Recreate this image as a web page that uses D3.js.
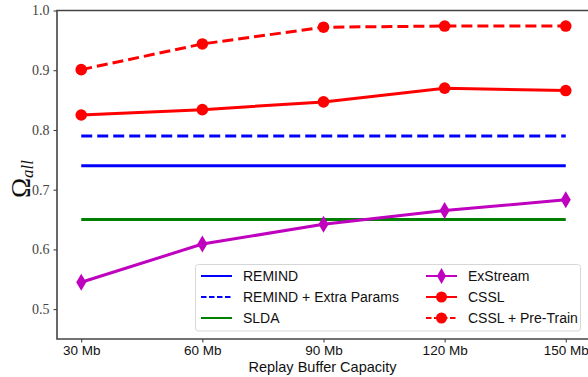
<!DOCTYPE html>
<html>
<head>
<meta charset="utf-8">
<script src="https://cdn.jsdelivr.net/npm/d3@7"></script>
<style>
  body { margin: 0; background: #fff; }
  svg { display: block; }
</style>
</head>
<body>
<svg id="chart" width="588" height="377"></svg>
<script>
// buffer sizes (Mb)
var buffers = [30, 60, 90, 120, 150];
var xTickLabels = ["30 Mb", "60 Mb", "90 Mb", "120 Mb", "150 Mb"];
var yTicks = [0.5, 0.6, 0.7, 0.8, 0.9, 1.0];

// series
var csslPre = [0.901, 0.944, 0.972, 0.974, 0.974];
var cssl = [0.825, 0.834, 0.847, 0.870, 0.866];
var exstream = [0.545, 0.609, 0.642, 0.665, 0.683];
var remind = 0.740;
var remindExtra = 0.790;
var slda = 0.650;

var svg = d3.select('#chart');
var pLeft = 57, pRight = 590, pTop = 10.5, pBottom = 339;

var x = d3.scaleLinear().domain([24, 156]).range([pLeft, pRight]);
var y = d3.scaleLinear().domain([0.45, 1.0]).range([pBottom, pTop]);

var line = d3.line()
    .x(function(d) { return x(d[0]) })
    .y(function(d) { return y(d[1]) });

function pairs(vals) {
    return buffers.map(function(b, i) { return [b, vals[i]] });
}
function flat(v) {
    return buffers.map(function(b) { return [b, v] });
}

var lines = [
    { name: 'REMIND', data: flat(remind), color: '#0000ff', dash: null, marker: null },
    { name: 'REMIND + Extra Params', data: flat(remindExtra), color: '#0000ff', dash: '11,5', marker: null },
    { name: 'SLDA', data: flat(slda), color: '#008000', dash: null, marker: null },
    { name: 'ExStream', data: pairs(exstream), color: '#bf00bf', dash: null, marker: 'diamond' },
    { name: 'CSSL', data: pairs(cssl), color: '#ff0000', dash: null, marker: 'circle' },
    { name: 'CSSL + Pre-Train', data: pairs(csslPre), color: '#ff0000', dash: '11,5', marker: 'circle' }
];

var diamond = function(cx, cy, w, h) {
    return 'M' + cx + ',' + (cy - h) + 'L' + (cx + w) + ',' + cy +
        'L' + cx + ',' + (cy + h) + 'L' + (cx - w) + ',' + cy + 'Z';
};

// lines
var g = svg.append('g');
lines.forEach(function(s) {
    g.append('path')
        .attr('d', line(s.data))
        .attr('fill', 'none')
        .attr('stroke', s.color)
        .attr('stroke-width', 3)
        .attr('stroke-dasharray', s.dash);
    if (s.marker == 'circle') {
        g.selectAll(null).data(s.data).enter().append('circle')
            .attr('cx', function(d) { return x(d[0]) })
            .attr('cy', function(d) { return y(d[1]) })
            .attr('r', 5.8)
            .attr('fill', s.color);
    } else if (s.marker == 'diamond') {
        g.selectAll(null).data(s.data).enter().append('path')
            .attr('d', function(d) { return diamond(x(d[0]), y(d[1]), 5, 8.5) })
            .attr('fill', s.color);
    }
});

// axes
var xAxis = svg.append('g')
    .attr('transform', 'translate(0,' + pBottom + ')')
    .call(d3.axisBottom(x).tickValues(buffers).tickSize(3.5).tickPadding(3)
        .tickFormat(function(d, i) { return xTickLabels[i] }));
xAxis.select('.domain').remove();
xAxis.selectAll('text')
    .attr('font-family', 'Liberation Sans, Arial, sans-serif')
    .attr('font-size', 13.5)
    .attr('fill', '#111');
xAxis.selectAll('line').attr('stroke', '#333');

var yAxis = svg.append('g')
    .attr('transform', 'translate(' + pLeft + ',0)')
    .call(d3.axisLeft(y).tickValues(yTicks).tickSize(3.5).tickPadding(4)
        .tickFormat(d3.format('.1f')));
yAxis.select('.domain').remove();
yAxis.selectAll('text')
    .attr('font-family', 'Liberation Serif, Times New Roman, serif')
    .attr('font-size', 14)
    .attr('fill', '#444');
yAxis.selectAll('line').attr('stroke', '#333');

// spines (left, top, bottom)
svg.append('path')
    .attr('d', 'M' + 588 + ',' + pTop + 'H' + pLeft + 'V' + pBottom + 'H588')
    .attr('fill', 'none')
    .attr('stroke', '#444')
    .attr('stroke-width', 1.6);

// axis titles
svg.append('text')
    .attr('x', (pLeft + 588) / 2)
    .attr('y', 372)
    .attr('text-anchor', 'middle')
    .attr('font-family', 'Liberation Sans, Arial, sans-serif')
    .attr('font-size', 14.5)
    .attr('fill', '#111')
    .text('Replay Buffer Capacity');

var ylab = svg.append('text')
    .attr('transform', 'translate(30,179) rotate(-90)')
    .attr('text-anchor', 'middle')
    .attr('font-family', 'Liberation Serif, Times New Roman, serif')
    .attr('fill', '#111');
ylab.append('tspan').attr('font-size', 27).text('Ω');
ylab.append('tspan').attr('font-size', 17).attr('font-style', 'italic').attr('dy', 3).text('all');

// legend
var lg = svg.append('g');
lg.append('rect')
    .attr('x', 195.5).attr('y', 264.5)
    .attr('width', 385).attr('height', 66.5)
    .attr('rx', 3)
    .attr('fill', '#fff').attr('fill-opacity', 0.85)
    .attr('stroke', '#d6d6d6');
var cols = [201, 426];
var rows = [276, 297, 318];
lines.forEach(function(s, i) {
    var cx = cols[Math.floor(i / 3)], cy = rows[i % 3];
    var item = lg.append('g').attr('transform', 'translate(' + cx + ',' + cy + ')');
    item.append('line')
        .attr('x1', 0).attr('x2', 31)
        .attr('stroke', s.color).attr('stroke-width', 2)
        .attr('stroke-dasharray', s.dash ? '5.5,2.5' : null);
    if (s.marker == 'circle') {
        item.append('circle').attr('cx', 15.5).attr('r', 5.5).attr('fill', s.color);
    } else if (s.marker == 'diamond') {
        item.append('path').attr('d', diamond(15.5, 0, 4.5, 8)).attr('fill', s.color);
    }
    item.append('text')
        .attr('x', 42).attr('dy', '0.35em')
        .attr('font-family', 'Liberation Sans, Arial, sans-serif')
        .attr('font-size', 14)
        .attr('fill', '#111')
        .text(s.name);
});
</script>
</body>
</html>
